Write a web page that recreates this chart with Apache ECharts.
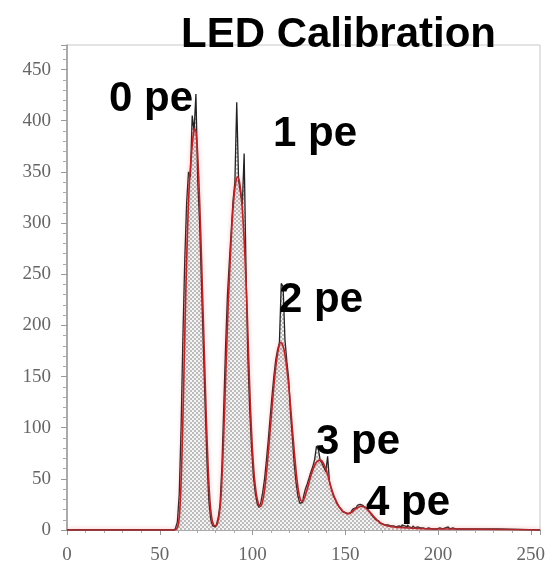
<!DOCTYPE html>
<html>
<head>
<meta charset="utf-8">
<title>LED Calibration</title>
<script src="https://cdn.jsdelivr.net/npm/echarts@6/dist/echarts.min.js"></script>
<style>
  html, body { margin: 0; padding: 0; background: #fff; }
  #chart { width: 548px; height: 567px; }
</style>
</head>
<body>
<div id="chart"></div>
<script>
// ADC channel of the first entry in the arrays below (one entry per channel)
const firstChannel = 55;

// histogram counts, channels 55..210
const counts = [
  0, 0, 0, 0, 2, 8, 35, 100, 190, 265,          // 55-64
  320, 350, 345, 405, 390, 426, 340, 300, 240, 180, // 65-74
  120, 65, 28, 10, 4, 3, 5, 12, 25, 62,          // 75-84
  120, 180, 230, 262, 292, 322, 340, 418, 342, 330, // 85-94
  318, 368, 255, 168, 118, 80, 52, 36, 26, 22,   // 95-104
  27, 37, 50, 68, 88, 110, 131, 150, 166, 176,   // 105-114
  183, 241, 238, 186, 165, 148, 114, 90, 64, 46, // 115-124
  33, 26, 27, 33, 40, 45, 51, 57, 62, 69,        // 125-134
  82, 79, 68, 65, 61, 57, 72, 47, 40, 34,        // 135-144
  30, 26, 23, 21, 18, 17, 16, 16, 17, 19,        // 145-154
  21, 22, 24, 25, 24, 23, 22, 21, 19, 17,        // 155-164
  14, 12, 10, 9, 7, 6, 5, 4, 5, 4,               // 165-174
  3, 4, 3, 3, 4, 3, 5, 4, 3, 5,                  // 175-184
  3, 2, 4, 2, 3, 2, 1, 2, 1, 1,                  // 185-194
  2, 1, 1, 1, 1, 1, 2, 1, 1, 2,                  // 195-204
  3, 2, 1, 2, 1, 1                               // 205-210
];

// fitted curve (red), same channels
const fit = [
  0, 0, 0, 0, 1, 5, 25, 75, 150, 230,
  295, 340, 365, 385, 392, 380, 345, 295, 235, 175,
  115, 65, 30, 12, 5, 4, 6, 14, 32, 70,
  120, 175, 225, 265, 300, 325, 340, 345, 340, 325,
  300, 265, 220, 165, 115, 78, 52, 36, 27, 23,
  25, 33, 46, 65, 86, 108, 130, 150, 166, 177,
  183, 182, 176, 165, 150, 132, 110, 88, 67, 49,
  36, 29, 28, 31, 37, 43, 50, 56, 61, 65,
  67, 68, 68, 66, 62, 57, 51, 44, 38, 33,
  29, 25, 22, 20, 18, 17, 16, 16, 17, 18,
  20, 21, 22, 23, 23, 23, 22, 20, 18, 16,
  14, 12, 10, 8.5, 7, 6, 5, 4.5, 4, 3.6,
  3.3, 3, 2.8, 2.6, 2.5, 2.4, 2.3, 2.2, 2.1, 2,
  1.9, 1.8, 1.7, 1.6, 1.5, 1.4, 1.3, 1.2, 1.2, 1.1,
  1.1, 1, 1, 1, 1, 1, 1, 1, 1, 1,
  1, 1, 1, 1, 1, 1
];

const xRange = [0, 255];
const yRange = [0, 474];

const peakNames = ['0 pe', '1 pe', '2 pe', '3 pe', '4 pe'];

// x/y pairs, padded with zero at both ends of the axis
function toPairs(arr) {
  const out = [[xRange[0], 0]];
  arr.forEach((v, i) => out.push([firstChannel + i, v]));
  out.push([xRange[1], 0]);
  return out;
}

// crosshatch fill for the histogram
const hatch = document.createElement('canvas');
hatch.width = 4;
hatch.height = 4;
const hctx = hatch.getContext('2d');
hctx.fillStyle = '#f5f5f5';
hctx.fillRect(0, 0, 4, 4);
hctx.fillStyle = '#bcbcbc';
hctx.fillRect(0, 0, 2, 2);
hctx.fillRect(2, 2, 2, 2);

const labelFont = '"Liberation Sans", Arial, sans-serif';
// text placement (px) for the peak labels
const peakPos = [[109, 78], [273, 113], [279, 279], [316, 421], [366, 482]];

const chart = echarts.init(document.getElementById('chart'));
chart.setOption({
  animation: false,
  title: {
    text: 'LED Calibration',
    left: 181,
    top: 14,
    padding: 0,
    textStyle: { fontFamily: labelFont, fontWeight: 'bold', fontSize: 42, color: '#000' }
  },
  grid: {
    left: 67, right: 7, top: 45, bottom: 37,
    show: true, borderColor: '#c8c8c8', borderWidth: 1
  },
  xAxis: {
    type: 'value',
    min: xRange[0], max: xRange[1], interval: 50,
    axisLine: { lineStyle: { color: '#999', width: 1.5 } },
    axisTick: { length: 5, lineStyle: { color: '#999' } },
    minorTick: { show: true, splitNumber: 5, length: 3, lineStyle: { color: '#aaa' } },
    axisLabel: {
      showMaxLabel: false, margin: 16,
      fontFamily: '"Liberation Serif", "DejaVu Serif", serif',
      fontSize: 19, color: '#666'
    },
    splitLine: { show: false }
  },
  yAxis: {
    type: 'value',
    min: yRange[0], max: yRange[1], interval: 50,
    axisLine: { show: true, lineStyle: { color: '#999', width: 1.5 } },
    axisTick: { show: true, length: 6, lineStyle: { color: '#999' } },
    minorTick: { show: true, splitNumber: 5, length: 4, lineStyle: { color: '#aaa' } },
    axisLabel: {
      showMaxLabel: false, margin: 16,
      fontFamily: '"Liberation Serif", "DejaVu Serif", serif',
      fontSize: 19, color: '#666'
    },
    splitLine: { show: false }
  },
  series: [
    {
      name: 'counts',
      type: 'line',
      step: 'middle',
      symbol: 'none',
      data: toPairs(counts),
      lineStyle: { color: '#222', width: 1.3 },
      areaStyle: { color: { image: hatch, repeat: 'repeat' }, opacity: 1 },
      z: 2
    },
    {
      name: 'fit',
      type: 'line',
      smooth: 0.3,
      symbol: 'none',
      data: toPairs(fit),
      lineStyle: {
        color: '#b3262b', width: 1.6,
        shadowColor: 'rgba(230,90,90,0.6)', shadowBlur: 4
      },
      z: 3
    }
  ],
  graphic: peakNames.map((t, i) => ({
    type: 'text',
    left: peakPos[i][0],
    top: peakPos[i][1],
    z: 10,
    style: { text: t, font: 'bold 42px ' + labelFont, fill: '#000' }
  }))
});
</script>
</body>
</html>
